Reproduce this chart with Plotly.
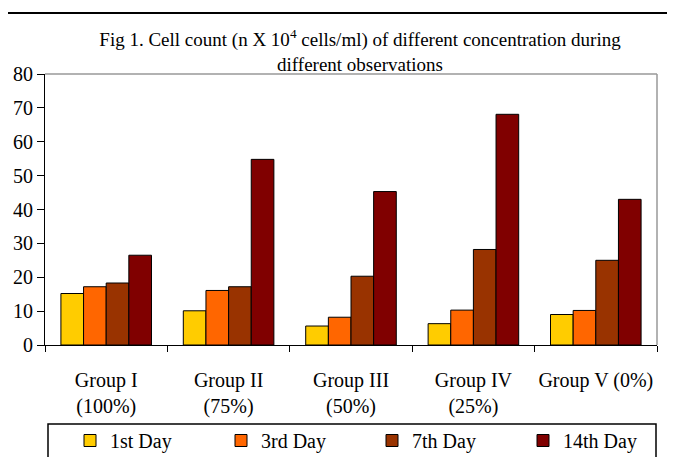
import plotly.graph_objects as go

categories = ["Group I<br>(100%)", "Group II<br>(75%)", "Group III<br>(50%)", "Group IV<br>(25%)", "Group V (0%)"]
series_names = ["1st Day", "3rd Day", "7th Day", "14th Day"]
day1 = [15.2, 10.1, 5.6, 6.3, 9.0]
day3 = [17.2, 16.1, 8.2, 10.3, 10.2]
day7 = [18.3, 17.2, 20.3, 28.2, 25.0]
day14 = [26.5, 54.8, 45.3, 68.1, 43.0]
colors = ["#FFCC00", "#FF6600", "#993300", "#800000"]
y_ticks = [0, 10, 20, 30, 40, 50, 60, 70, 80]

W, H = 675, 457
OFF = 8  # page body margin offset
# plot area in page px
PL, PR, PT, PB = 45, 657, 74, 345
L, R, T, B = PL - OFF, PR - OFF, PT - OFF, PB - OFF

def px_x(p):
    return (p - OFF - L) / (R - L)

def px_y(p):
    return (B - (p - OFF)) / (B - T)

FONT = "Liberation Serif"

fig = go.Figure()
for name, vals, col in zip(series_names, [day1, day3, day7, day14], colors):
    fig.add_trace(go.Bar(
        x=categories, y=vals, name=name,
        marker=dict(color=col, line=dict(color="#000000", width=1)),
    ))

fig.update_layout(
    width=W, height=H,
    margin=dict(l=L, r=W - R, t=T, b=H - B, autoexpand=False),
    paper_bgcolor="white", plot_bgcolor="white",
    barmode="group", bargap=0.26, bargroupgap=0,
    font=dict(family=FONT, color="#000000", size=19),
    title=dict(
        text="Fig 1. Cell count (n X 10<sup>4</sup> cells/ml) of different concentration during<br>different observations",
        x=(360 - OFF) / W, xanchor="center", xref="container",
        y=1 - 38 / H, yanchor="top",
        font=dict(family=FONT, size=19, color="#000000"),
    ),
    showlegend=True,
    legend=dict(
        orientation="h", x=px_x(70), y=px_y(421), xanchor="left", yanchor="top",
        bgcolor="rgba(0,0,0,0)", borderwidth=0,
        entrywidth=106, entrywidthmode="pixels",
        font=dict(family=FONT, size=20), traceorder="normal",
    ),
    xaxis=dict(
        showline=True, linecolor="#000000", linewidth=1,
        ticks="outside", ticklen=6, tickcolor="#000000", tickson="boundaries",
        tickfont=dict(family=FONT, size=20), ticklabelstandoff=17, tickangle=0,
        showgrid=False, fixedrange=True,
    ),
    yaxis=dict(
        range=[0, 80], tickvals=y_ticks,
        showline=True, linecolor="#000000", linewidth=1,
        ticks="outside", ticklen=7, tickcolor="#000000",
        tickfont=dict(family=FONT, size=20),
        showgrid=False, zeroline=False, fixedrange=True,
    ),
    shapes=[
        # plot area top/right gray border
        dict(type="line", xref="paper", yref="paper", x0=0, x1=1, y0=1, y1=1,
             line=dict(color="#999999", width=1.5)),
        dict(type="line", xref="paper", yref="paper", x0=1, x1=1, y0=0, y1=1,
             line=dict(color="#999999", width=1.5)),
        # outer chart border
        dict(type="line", xref="paper", yref="paper", x0=px_x(6), x1=px_x(690), y0=px_y(13), y1=px_y(13),
             line=dict(color="#000000", width=2)),
        dict(type="line", xref="paper", yref="paper", x0=px_x(6), x1=px_x(6), y0=px_y(13), y1=px_y(480),
             line=dict(color="#000000", width=2)),
        # legend box
        dict(type="rect", xref="paper", yref="paper", x0=px_x(48), x1=px_x(656), y0=px_y(424), y1=px_y(480),
             line=dict(color="#000000", width=1.5), fillcolor="rgba(0,0,0,0)"),
    ],
)

fig.write_html("out.html")
